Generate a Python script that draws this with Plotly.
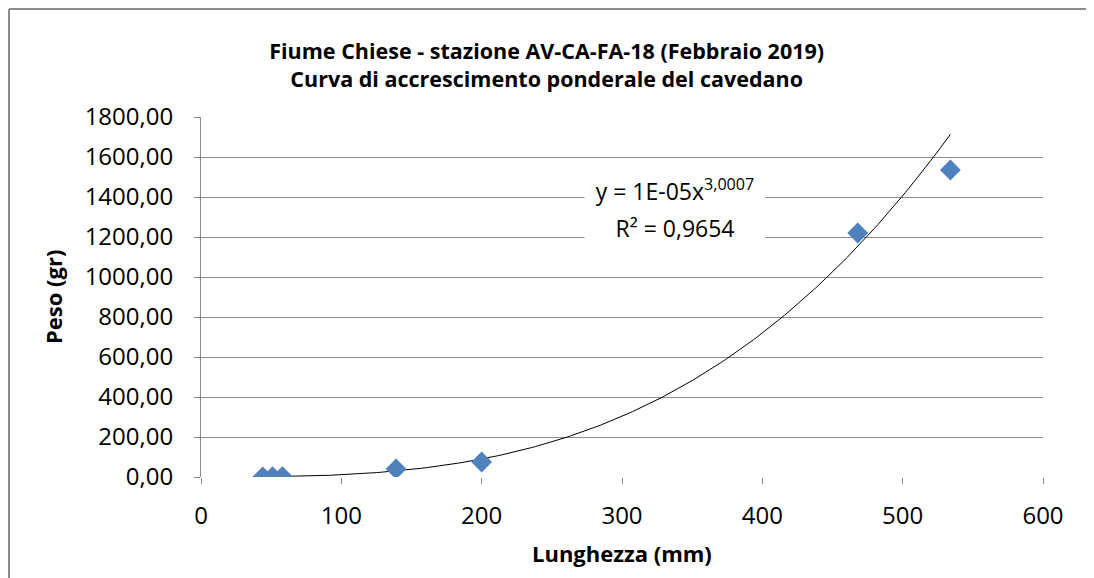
import numpy as np
import plotly.graph_objects as go

# lunghezza (mm) e peso (gr) dei cavedani campionati
lunghezza = [44, 51, 58, 139, 200, 468, 534]
peso = [1.0, 1.5, 2.0, 40.0, 75.0, 1220.0, 1535.0]

# linea di tendenza di potenza (Excel): y = a * x^b
trend_a = 1.12e-05
trend_b = 3.0007
eq_line1 = "y = 1E-05x<sup>3,0007</sup>"
eq_line2 = "R² = 0,9654"

x_ticks = [0, 100, 200, 300, 400, 500, 600]
y_ticks = [0, 200, 400, 600, 800, 1000, 1200, 1400, 1600, 1800]

FONT = "Open Sans"
GRID = "#8a8a8a"

# la pagina ha un margine di 8px: figura più piccola per stare nella finestra
W, H = 1086, 570
L, T, PW, PH = 193, 109, 842, 360

xs = np.linspace(min(lunghezza), max(lunghezza), 200)
ys = trend_a * xs ** trend_b

fig = go.Figure()
fig.add_trace(go.Scatter(x=xs, y=ys, mode="lines",
                         line=dict(color="black", width=1), hoverinfo="skip"))
fig.add_trace(go.Scatter(x=lunghezza, y=peso, mode="markers",
                         marker=dict(symbol="diamond", size=16, color="#4F81BD",
                                     line=dict(width=0))))

fig.update_layout(
    width=W, height=H,
    margin=dict(l=L, r=W - L - PW, t=T, b=H - T - PH),
    paper_bgcolor="white", plot_bgcolor="white",
    showlegend=False,
    separators=",.",
    font=dict(family=FONT, color="black"),
    title=dict(text="<b>Fiume Chiese - stazione AV-CA-FA-18 (Febbraio 2019)<br>"
                    "Curva di accrescimento ponderale del cavedano</b>",
               x=0.496, xanchor="center", y=1 - 51 / H, yanchor="middle",
               font=dict(family=FONT, size=21.5, color="black")),
)

fig.update_xaxes(range=[0, 600], tickvals=x_ticks, showgrid=False, zeroline=False,
                 showline=False, ticks="outside", ticklen=6, tickcolor=GRID,
                 tickfont=dict(size=24), ticklabelstandoff=11)
fig.update_yaxes(range=[0, 1800], tickvals=y_ticks, tickformat=".2f",
                 showgrid=True, gridcolor=GRID, gridwidth=1, zeroline=False,
                 showline=True, linecolor=GRID, linewidth=1,
                 ticks="outside", ticklen=6, tickcolor=GRID,
                 tickfont=dict(size=24), ticklabelstandoff=16)

# titoli degli assi
fig.add_annotation(text="<b>Peso (gr)</b>", xref="paper", yref="paper",
                   x=(45 - L) / PW, y=0.5, xanchor="center", yanchor="middle",
                   textangle=-90, showarrow=False, font=dict(size=22))
fig.add_annotation(text="<b>Lunghezza (mm)</b>", xref="paper", yref="paper",
                   x=0.5, y=(T + PH - 545) / PH, xanchor="center", yanchor="middle",
                   showarrow=False, font=dict(size=22))

# equazione della linea di tendenza
fig.add_annotation(text=eq_line1, x=338, y=1435, showarrow=False, width=176,
                   bgcolor="white", borderpad=2, font=dict(size=23))
fig.add_annotation(text=eq_line2, x=338, y=1245, showarrow=False, width=176,
                   bgcolor="white", borderpad=2, font=dict(size=23))

# cornice del grafico (solo bordo superiore e sinistro visibili)
x_left = (1 - L) / PW
y_top = (T + PH - 1) / PH
border = dict(color="#8c8c8c", width=2)
fig.add_shape(type="line", xref="paper", yref="paper",
              x0=x_left, x1=1.2, y0=y_top, y1=y_top, line=border, layer="below")
fig.add_shape(type="line", xref="paper", yref="paper",
              x0=x_left, x1=x_left, y0=-0.5, y1=y_top, line=border, layer="below")

fig.write_html("out.html")
